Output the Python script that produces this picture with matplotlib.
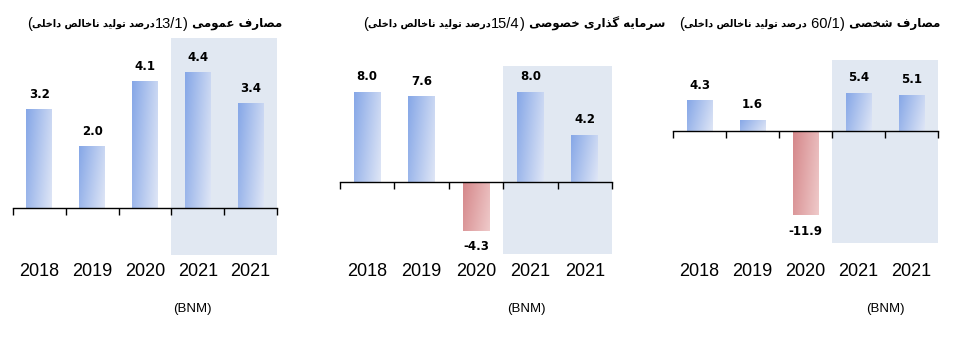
import numpy as np
import matplotlib
matplotlib.use("Agg")
import matplotlib.pyplot as plt
from matplotlib.colors import LinearSegmentedColormap
from matplotlib.transforms import blended_transform_factory

# data
years = ["2018", "2019", "2020", "2021", "2021"]
public_spend = [3.2, 2.0, 4.1, 4.4, 3.4]
private_invest = [8.0, 7.6, -4.3, 8.0, 4.2]
personal_spend = [4.3, 1.6, -11.9, 5.4, 5.1]
# titles split as: name, share of GDP, rest
title_names = ["مصارف عمومی", "سرمایه گذاری خصوصی", "مصارف شخصی"]
title_shares = ["13/1", "15/4", " 60/1"]
title_rest = "درصد تولید ناخالص داخلی"
source = "(BNM)"

# arabic contextual forms: iso, fin, ini, med
FORMS = {
    "ا": ("\uFE8D", "\uFE8E", None, None),
    "د": ("\uFEA9", "\uFEAA", None, None),
    "ذ": ("\uFEAB", "\uFEAC", None, None),
    "ر": ("\uFEAD", "\uFEAE", None, None),
    "و": ("\uFEED", "\uFEEE", None, None),
    "ت": ("\uFE95", "\uFE96", "\uFE97", "\uFE98"),
    "خ": ("\uFEA5", "\uFEA6", "\uFEA7", "\uFEA8"),
    "س": ("\uFEB1", "\uFEB2", "\uFEB3", "\uFEB4"),
    "ش": ("\uFEB5", "\uFEB6", "\uFEB7", "\uFEB8"),
    "ص": ("\uFEB9", "\uFEBA", "\uFEBB", "\uFEBC"),
    "ع": ("\uFEC9", "\uFECA", "\uFECB", "\uFECC"),
    "ف": ("\uFED1", "\uFED2", "\uFED3", "\uFED4"),
    "ل": ("\uFEDD", "\uFEDE", "\uFEDF", "\uFEE0"),
    "م": ("\uFEE1", "\uFEE2", "\uFEE3", "\uFEE4"),
    "ن": ("\uFEE5", "\uFEE6", "\uFEE7", "\uFEE8"),
    "ه": ("\uFEE9", "\uFEEA", "\uFEEB", "\uFEEC"),
    "ی": ("\uFBFC", "\uFBFD", "\uFBFE", "\uFBFF"),
    "گ": ("\uFB92", "\uFB93", "\uFB94", "\uFB95"),
}


def _dual(c):
    return c in FORMS and FORMS[c][2] is not None


def shape(s):
    out = []
    for i, c in enumerate(s):
        if c not in FORMS:
            out.append(c)
            continue
        prev_j = i > 0 and _dual(s[i - 1])
        next_j = _dual(c) and i + 1 < len(s) and s[i + 1] in FORMS
        iso, fin, ini, med = FORMS[c]
        if prev_j and next_j:
            out.append(med)
        elif prev_j:
            out.append(fin)
        elif next_j:
            out.append(ini)
        else:
            out.append(iso)
    return "".join(out)


def rtl(s):
    # visual order for a plain persian run
    return shape(s)[::-1]


W, H = 962, 344
fig = plt.figure(figsize=(W / 100, H / 100), dpi=100)

# pixel boxes: left, top, right, bottom
boxes = [(13, 38, 277, 255), (340, 66, 612, 254), (673, 60, 938, 243)]
ylims = [(-1.52, 5.5), (-6.37, 10.27), (-15.8, 10.0)]
title_right = [282, 665, 940]
src_x = [0.678, 0.687, 0.80]
series = [public_spend, private_invest, personal_spend]

blue = LinearSegmentedColormap.from_list("b", ["#86a7e7", "#dfe6f6"])
red = LinearSegmentedColormap.from_list("r", ["#d5878a", "#efcaca"])
gx, gy = np.meshgrid(np.linspace(0, 1, 60), np.linspace(0, 1, 60))
grad = 0.75 * gx + 0.25 * (1 - gy)


def draw_title(k):
    # pieces from right to left, each one butted against the previous
    num = dict(fontsize=10.5, family="Liberation Sans")
    pieces = [
        (" " + rtl(title_names[k]), dict(fontsize=8.5, fontweight="bold", family="DejaVu Sans")),
        (")", num),
        (title_shares[k], num),
        (rtl(title_rest), dict(fontsize=7, fontweight="bold", family="DejaVu Sans")),
        ("(", num),
    ]
    prev = fig.text(title_right[k] / W, 1 - 24 / H, pieces[0][0], ha="right", va="center", **pieces[0][1])
    for txt, kw in pieces[1:]:
        prev = fig.axes[-1].annotate(txt, xy=(0, 0.5), xycoords=prev, ha="right", va="center",
                                     annotation_clip=False, **kw)


x = np.arange(len(years))
for k, vals in enumerate(series):
    l, t, r, b = boxes[k]
    ax = fig.add_axes([l / W, 1 - b / H, (r - l) / W, (b - t) / H])
    ax.axvspan(2.5, 4.5, color="#e1e8f2", lw=0, zorder=0)
    bars = ax.bar(x, vals, width=0.49, facecolor="none", edgecolor="none", zorder=2)
    for rect, v in zip(bars, vals):
        x0, y0 = rect.get_x(), rect.get_y()
        x1, y1 = x0 + rect.get_width(), y0 + rect.get_height()
        im = ax.imshow(grad, extent=[x0, x1, min(y0, y1), max(y0, y1)],
                       cmap=blue if v >= 0 else red, origin="lower",
                       aspect="auto", zorder=2, interpolation="bilinear")
        im.set_clip_path(rect)
        if v >= 0:
            ax.annotate(f"{v:.1f}", (rect.get_x() + rect.get_width() / 2, v),
                        xytext=(0, 6), textcoords="offset points", ha="center",
                        va="bottom", fontsize=8.5, fontweight="bold")
        else:
            ax.annotate(f"{v:.1f}", (rect.get_x() + rect.get_width() / 2, v),
                        xytext=(0, -7), textcoords="offset points", ha="center",
                        va="top", fontsize=8.5, fontweight="bold")
    ax.set_xlim(-0.5, 4.5)
    ax.set_ylim(*ylims[k])
    for sp in ["left", "right", "top"]:
        ax.spines[sp].set_visible(False)
    ax.spines["bottom"].set_position(("data", 0))
    ax.spines["bottom"].set_linewidth(1)
    ax.spines["bottom"].set_zorder(3)
    ax.set_xticks(np.arange(-0.5, 5, 1))
    ax.set_xticklabels([])
    ax.tick_params(axis="x", direction="out", length=5, width=1)
    ax.set_yticks([])
    ax.patch.set_alpha(0)

    tr = blended_transform_factory(ax.transData, fig.transFigure)
    for xi, yr in zip(x, years):
        ax.text(xi, 1 - 272 / H, yr, transform=tr, ha="center", va="center",
                fontsize=13, family="Liberation Sans")
    ax.text(src_x[k], 1 - 309 / H, source, transform=blended_transform_factory(ax.transAxes, fig.transFigure),
            ha="center", va="center", fontsize=9.5, family="Liberation Sans")

    draw_title(k)

fig.savefig("out.png", dpi=100)
